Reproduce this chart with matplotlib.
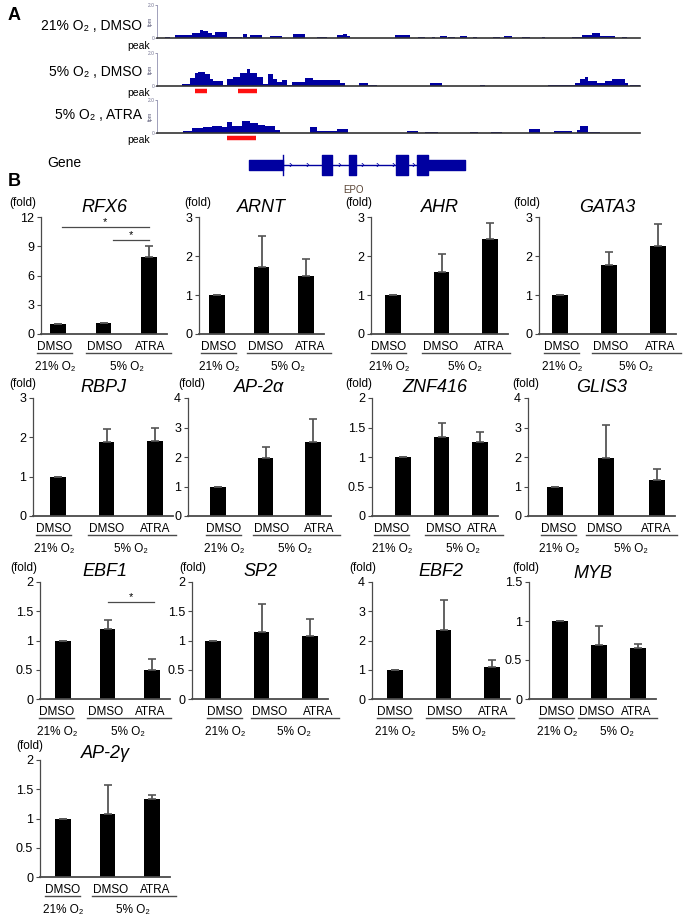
import matplotlib
matplotlib.use('Agg')
import matplotlib.pyplot as plt
from matplotlib.transforms import blended_transform_factory as blend
import numpy as np

plt.rcParams['font.family'] = ['Liberation Sans', 'DejaVu Sans']

O2 = 'O₂'

# ---- panel A data: coverage (start kb, end kb, fpm) ----
track_names = ['21% ' + O2 + ' , DMSO', '5% ' + O2 + ' , DMSO', '5% ' + O2 + ' , ATRA']

cov_21_dmso = [(0.11, 0.18, 0.04), (0.24, 0.47, 0.16), (0.47, 0.58, 0.30), (0.58, 0.62, 0.48),
               (0.62, 0.69, 0.40), (0.69, 0.74, 0.30), (0.74, 0.78, 0.16), (0.78, 0.94, 0.34),
               (0.94, 1.14, 0.06), (1.16, 1.21, 0.24), (1.21, 1.25, 0.06), (1.25, 1.41, 0.16),
               (1.52, 1.68, 0.14), (1.83, 1.99, 0.24), (2.15, 2.29, 0.06), (2.42, 2.50, 0.16),
               (2.50, 2.56, 0.26), (2.56, 2.60, 0.12), (3.20, 3.41, 0.16), (3.51, 3.61, 0.06),
               (3.70, 3.74, 0.06), (3.81, 3.90, 0.14), (3.92, 4.01, 0.08), (4.08, 4.17, 0.14),
               (4.25, 4.31, 0.06), (4.52, 4.62, 0.06), (4.67, 4.78, 0.14), (4.91, 5.02, 0.06),
               (5.18, 5.22, 0.06), (5.59, 5.72, 0.08), (5.72, 5.85, 0.16), (5.85, 5.96, 0.30),
               (5.96, 6.16, 0.12), (6.26, 6.33, 0.06)]

cov_5_dmso = [(0.34, 0.44, 0.10), (0.44, 0.51, 0.50), (0.51, 0.55, 0.80), (0.55, 0.65, 0.85),
              (0.65, 0.71, 0.70), (0.71, 0.75, 0.40), (0.75, 0.89, 0.30), (0.89, 0.94, 0.06),
              (0.94, 1.02, 0.40), (1.02, 1.12, 0.55), (1.12, 1.21, 0.80), (1.21, 1.25, 1.03),
              (1.25, 1.35, 0.80), (1.35, 1.43, 0.55), (1.43, 1.49, 0.10), (1.49, 1.56, 0.75),
              (1.56, 1.62, 0.40), (1.62, 1.68, 0.25), (1.68, 1.75, 0.35), (1.75, 1.82, 0.06),
              (1.82, 1.99, 0.24), (1.99, 2.10, 0.50), (2.10, 2.46, 0.34), (2.46, 2.53, 0.16),
              (2.72, 2.84, 0.20), (2.84, 2.96, 0.08), (3.67, 3.84, 0.16), (4.35, 4.41, 0.08),
              (5.26, 5.63, 0.08), (5.63, 5.69, 0.20), (5.69, 5.76, 0.43), (5.76, 5.80, 0.53),
              (5.80, 5.92, 0.30), (5.92, 6.03, 0.20), (6.03, 6.12, 0.30), (6.12, 6.30, 0.40),
              (6.30, 6.34, 0.16), (6.37, 6.54, 0.08)]

cov_5_atra = [(0.35, 0.47, 0.14), (0.47, 0.62, 0.30), (0.62, 0.74, 0.36), (0.74, 0.88, 0.44),
              (0.88, 0.94, 0.36), (0.94, 1.01, 0.64), (1.01, 1.14, 0.40), (1.14, 1.25, 0.70),
              (1.25, 1.36, 0.60), (1.36, 1.45, 0.50), (1.45, 1.59, 0.40), (1.59, 1.66, 0.20),
              (2.06, 2.15, 0.34), (2.15, 2.42, 0.10), (2.42, 2.57, 0.24), (3.37, 3.51, 0.10),
              (3.61, 3.78, 0.08), (4.21, 4.32, 0.08), (4.50, 4.64, 0.08), (5.01, 5.15, 0.26),
              (5.34, 5.59, 0.10), (5.65, 5.69, 0.20), (5.69, 5.80, 0.45), (5.80, 5.96, 0.08)]

peaks = [[], [(0.51, 0.67), (1.09, 1.35)], [(0.94, 1.33)]]

# EPO gene model (kb)
utrs = [(1.24, 1.70), (3.65, 4.15)]
exons = [(2.22, 2.36), (2.58, 2.68), (3.22, 3.38), (3.50, 3.65)]
intron_arrows = [1.80, 2.02, 2.45, 2.76, 2.96, 3.18, 3.45]

# ---- panel B data ----
genes = ['RFX6', 'ARNT', 'AHR', 'GATA3', 'RBPJ', 'AP-2α', 'ZNF416', 'GLIS3',
         'EBF1', 'SP2', 'EBF2', 'MYB', 'AP-2γ']
treat = ['DMSO', 'DMSO', 'ATRA']
means = [[1.0, 1.10, 7.90], [1.0, 1.72, 1.50], [1.0, 1.60, 2.43], [1.0, 1.76, 2.26],
         [1.0, 1.88, 1.90], [1.0, 1.95, 2.50], [1.0, 1.34, 1.25], [1.0, 1.96, 1.22],
         [1.0, 1.20, 0.50], [1.0, 1.15, 1.08], [1.0, 2.35, 1.10], [1.0, 0.69, 0.65],
         [1.0, 1.08, 1.33]]
errs = [[0, 0.05, 1.10], [0, 0.80, 0.43], [0, 0.45, 0.42], [0, 0.35, 0.57],
        [0, 0.32, 0.35], [0, 0.40, 0.78], [0, 0.23, 0.18], [0, 1.11, 0.36],
        [0, 0.15, 0.18], [0, 0.47, 0.29], [0, 1.02, 0.23], [0, 0.24, 0.06],
        [0, 0.50, 0.08]]
ymax = [12, 3, 3, 3, 3, 4, 2, 4, 2, 2, 4, 1.5, 2]
ystep = [3, 1, 1, 1, 1, 1, 0.5, 1, 0.5, 0.5, 1, 0.5, 0.5]
# significance: (panel, x0, x1, y)
sig = [(0, 0.08, 2.0, 11.0), (0, 1.2, 2.0, 9.6), (8, 1.0, 2.05, 1.65)]

# ---- layout (pixels) ----
W, H = 685, 919
fig = plt.figure(figsize=(W / 100, H / 100), dpi=100)
blue = '#0000a0'


def px_rect(l, t, r, b):
    return [l / W, 1 - b / H, (r - l) / W, (b - t) / H]


fig.text(8 / W, 1 - 16 / H, 'A', fontsize=13, weight='bold', va='center')
fig.text(8 / W, 1 - 182 / H, 'B', fontsize=13, weight='bold', va='center')

track_px = [(5, 38), (53, 86), (100, 133)]
label_y = [26, 72, 115]
peak_y = [46, 93, 140]
for i, cov in enumerate([cov_21_dmso, cov_5_dmso, cov_5_atra]):
    top, base = track_px[i]
    ax = fig.add_axes(px_rect(157, top, 640, base))
    s, e, h = np.array(cov).T
    ax.bar(s, h, width=e - s, align='edge', color=blue, linewidth=0)
    ax.set_xlim(0, 6.5)
    ax.set_ylim(0, 2.0)
    for sp in ['top', 'right']:
        ax.spines[sp].set_visible(False)
    ax.spines['left'].set_color('#9090b0')
    ax.spines['left'].set_linewidth(0.6)
    ax.spines['bottom'].set_color('#333333')
    ax.spines['bottom'].set_linewidth(1.2)
    ax.set_xticks([])
    ax.set_yticks([0, 2])
    ax.set_yticklabels(['0', '2.0'])
    ax.tick_params(axis='y', length=1.2, width=0.5, labelsize=3.5, pad=0.3,
                   colors='#707090')
    ax.text(-4 / 483, 0.5, 'fpm', rotation=90, fontsize=4, color='#505070', ha='right',
            va='center', transform=ax.transAxes)
    fig.text(142 / W, 1 - label_y[i] / H, track_names[i], ha='right', va='center', fontsize=10)
    fig.text(150 / W, 1 - peak_y[i] / H, 'peak', ha='right', va='center', fontsize=7.5)
    for ps, pe in peaks[i]:
        ax.plot([ps, pe], [-0.3, -0.3], color='#ff1010', lw=3.2, solid_capstyle='butt',
                clip_on=False)

# gene model
ax = fig.add_axes(px_rect(157, 150, 640, 180))
ax.set_xlim(0, 6.5)
ax.set_ylim(-1, 1)
ax.axis('off')
ax.plot([utrs[0][1], utrs[1][0]], [0, 0], color=blue, lw=1)
ax.broken_barh([(a, b - a) for a, b in utrs], (-0.36, 0.72), color=blue)
ax.broken_barh([(a, b - a) for a, b in exons], (-0.65, 1.3), color=blue)
ax.plot([utrs[0][1]] * 2, [-0.65, 0.65], color=blue, lw=1)
for xa in intron_arrows:
    ax.text(xa, 0.02, '›', ha='center', va='center', fontsize=8, color=blue)
ax.text(2.64, -1.65, 'EPO', ha='center', va='center', fontsize=7, color='#5a4535')
fig.text(47 / W, 1 - 163 / H, 'Gene', va='center', fontsize=10)

# panel B: (axis left, bar0 centre, bar2 centre, '(fold)' centre, title offset,
#           shift of 21% label, shift of 5% labels)
layout = [(41, 58, 149, 23, 10, -3, 1), (199, 217, 306, 198, 10, 2, 4),
          (371, 393, 490, 359, 10, -4, -1), (539, 560, 658, 527, 10, 2, 2),
          (33, 58, 155, 23, 10, -4, 0), (188, 218, 313, 192, 10, 6, 6),
          (372, 403, 480, 359, 10, -11, 2), (528, 555, 657, 526, 10, 4, -1),
          (40, 63, 152, 24, 10, -6, -2), (192, 213, 310, 193, 10, 12, 8),
          (372, 395, 492, 363, 10, 0, 1), (529, 560, 638, 526, 9, -3, -2),
          (40, 63, 152, 30, 6, 0, 3)]
row_px = [(217, 334), (398, 516), (582, 699), (760, 877)]
grey = '#4a4a4a'

for idx, gene in enumerate(genes):
    L, b0, b2, fx, tdy, d0, d1 = layout[idx]
    top, zero = row_px[idx // 4]
    sp = (b2 - b0) / 2
    R = b2 + 18
    hpx = zero - top
    ax = fig.add_axes(px_rect(L, top, R, zero))
    x = np.arange(3)
    ax.bar(x, means[idx], width=15.5 / sp, color='black', zorder=2)
    ax.errorbar(x, means[idx], yerr=[np.zeros(3), errs[idx]], fmt='none', ecolor='#555555',
                elinewidth=1.3, capsize=3, capthick=1.2, zorder=3)
    ax.set_xlim((L - b0) / sp, 2 + 18 / sp)
    ax.set_ylim(0, ymax[idx])
    ax.set_yticks(np.arange(0, ymax[idx] + ystep[idx] / 2, ystep[idx]))
    ax.yaxis.set_major_formatter(lambda v, p: f'{v:g}')
    ax.set_xticks([])
    for s in ['top', 'right']:
        ax.spines[s].set_visible(False)
    for s in ['left', 'bottom']:
        ax.spines[s].set_color(grey)
    ax.spines['left'].set_linewidth(0.9)
    ax.spines['bottom'].set_linewidth(1.3)
    ax.tick_params(axis='y', length=3, width=0.8, color=grey, labelsize=9, pad=2)

    tr = blend(ax.transData, ax.transAxes)
    ax.text(0.5, 1 + tdy / hpx, gene, style='italic', fontsize=13, ha='center', va='center',
            transform=ax.transAxes)
    ax.text((fx - L) / (R - L), 1 + 14 / hpx, '(fold)', fontsize=8.5, ha='center',
            va='center', transform=ax.transAxes)
    lx = [d0 / sp, 1 + d1 / sp, 2 + d1 / sp]
    for i, lab in enumerate(treat):
        ax.text(lx[i], -13 / hpx, lab, transform=tr, ha='center', va='center', fontsize=8.5)
    ax.plot([lx[0] - 18 / sp, lx[0] + 17 / sp], [-19 / hpx] * 2, transform=tr, color=grey,
            lw=1, clip_on=False)
    ax.plot([lx[1] - 19 / sp, lx[2] + 21 / sp], [-19 / hpx] * 2, transform=tr, color=grey,
            lw=1, clip_on=False)
    ax.text(lx[0], -33 / hpx, '21% ' + O2, transform=tr, ha='center', va='center',
            fontsize=8.5)
    ax.text((lx[1] + lx[2]) / 2, -33 / hpx, '5% ' + O2, transform=tr, ha='center',
            va='center', fontsize=8.5)

    for p, x0, x1, y in sig:
        if p == idx:
            ax.plot([x0, x1], [y, y], color=grey, lw=0.9, clip_on=False)
            ax.annotate('*', xy=((x0 + x1) / 2, y), xytext=(0, 5), textcoords='offset pixels',
                        ha='center', va='center', fontsize=8)

fig.savefig('out.png', dpi=100)
